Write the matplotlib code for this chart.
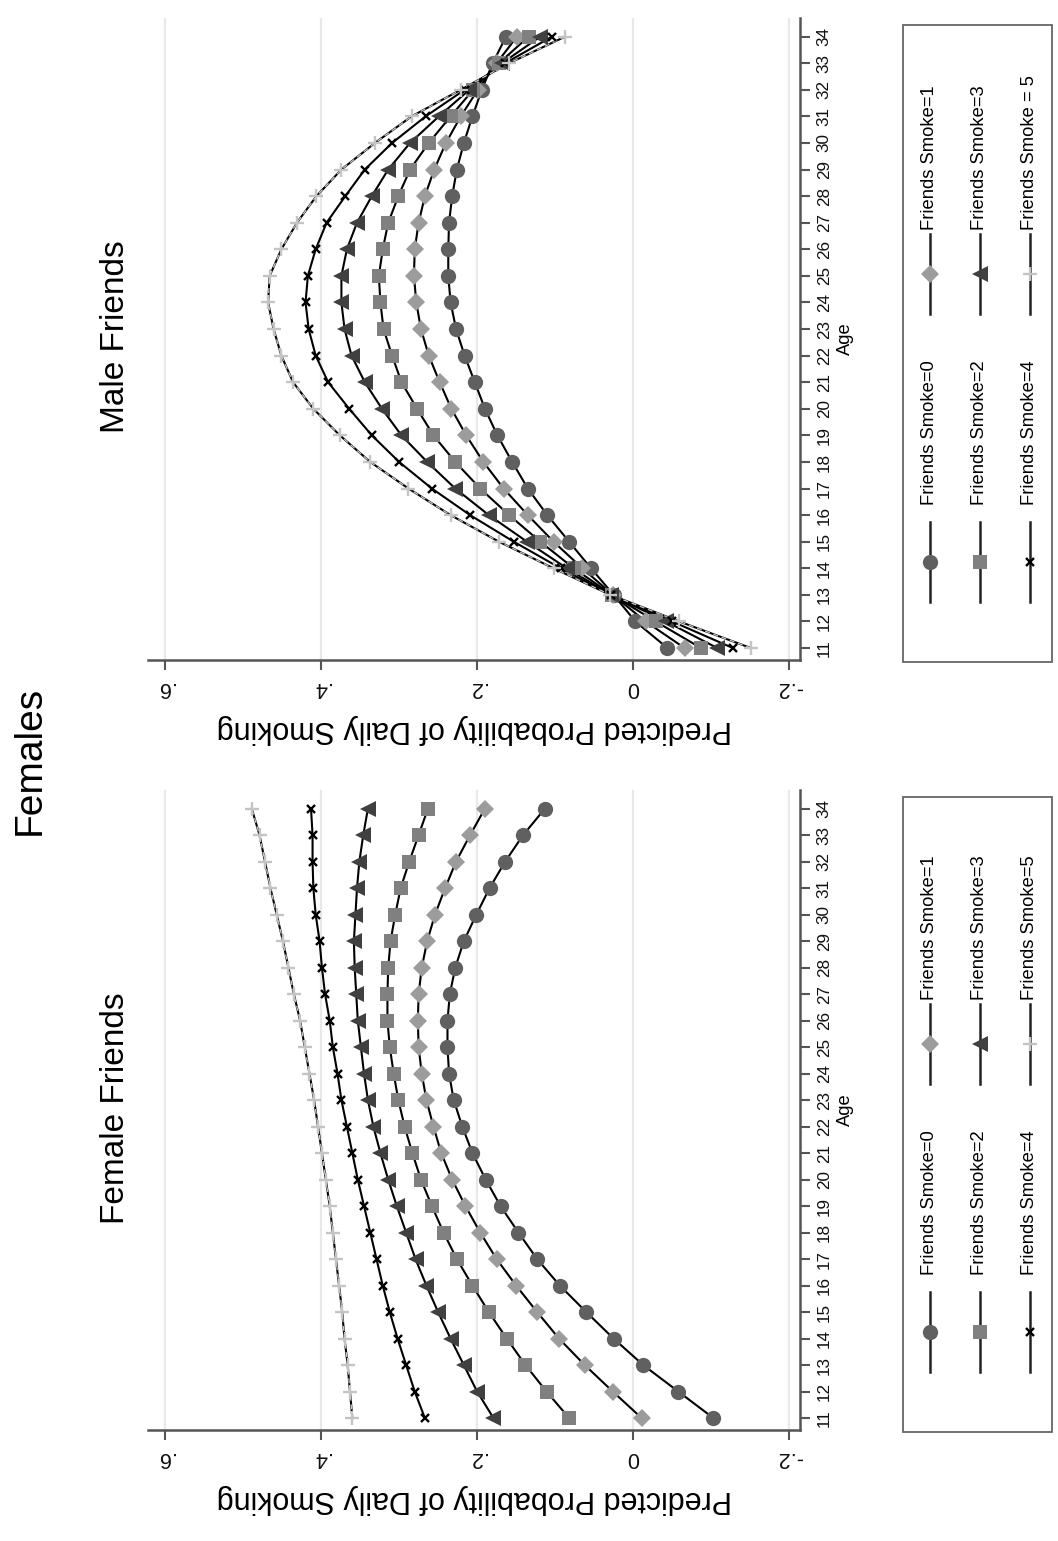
import matplotlib

matplotlib.use("Agg")
import matplotlib.pyplot as plt
from matplotlib import font_manager
from matplotlib.patches import Rectangle

W, H = 1058, 1541

AGES = list(range(11, 35))

# Female friends panel (predicted probability by age, one list per # of smoking friends)
FEM_0 = [-0.103, -0.058, -0.013, 0.025, 0.060, 0.094, 0.123, 0.147, 0.170, 0.189, 0.206, 0.219,
         0.230, 0.236, 0.238, 0.238, 0.235, 0.228, 0.217, 0.201, 0.184, 0.164, 0.141, 0.113]
FEM_1 = [-0.011, 0.026, 0.062, 0.095, 0.123, 0.150, 0.175, 0.196, 0.215, 0.232, 0.246, 0.256,
         0.265, 0.271, 0.275, 0.276, 0.275, 0.271, 0.264, 0.254, 0.241, 0.227, 0.209, 0.190]
FEM_2 = [0.082, 0.111, 0.138, 0.162, 0.185, 0.206, 0.226, 0.243, 0.258, 0.272, 0.283, 0.293,
         0.301, 0.307, 0.312, 0.315, 0.315, 0.314, 0.311, 0.305, 0.298, 0.287, 0.275, 0.263]
FEM_3 = [0.179, 0.200, 0.217, 0.234, 0.250, 0.265, 0.279, 0.291, 0.303, 0.314, 0.324, 0.333,
         0.340, 0.345, 0.349, 0.353, 0.355, 0.357, 0.358, 0.356, 0.354, 0.351, 0.346, 0.340]
FEM_4 = [0.267, 0.280, 0.291, 0.302, 0.312, 0.321, 0.329, 0.337, 0.345, 0.353, 0.360, 0.367,
         0.374, 0.379, 0.385, 0.389, 0.395, 0.399, 0.402, 0.407, 0.410, 0.411, 0.411, 0.413]
FEM_5 = [0.360, 0.363, 0.366, 0.370, 0.373, 0.377, 0.381, 0.385, 0.389, 0.394, 0.399, 0.404,
         0.409, 0.415, 0.421, 0.427, 0.435, 0.442, 0.449, 0.457, 0.465, 0.472, 0.479, 0.489]

# Male friends panel
MALE_0 = [-0.044, -0.003, 0.025, 0.054, 0.082, 0.110, 0.135, 0.155, 0.174, 0.190, 0.203, 0.216,
          0.227, 0.234, 0.237, 0.237, 0.236, 0.232, 0.226, 0.217, 0.206, 0.194, 0.180, 0.163]
MALE_1 = [-0.066, -0.016, 0.026, 0.065, 0.102, 0.135, 0.166, 0.192, 0.214, 0.233, 0.248, 0.262,
          0.272, 0.278, 0.281, 0.280, 0.275, 0.267, 0.255, 0.240, 0.221, 0.199, 0.175, 0.149]
MALE_2 = [-0.087, -0.029, 0.027, 0.076, 0.119, 0.159, 0.196, 0.228, 0.256, 0.277, 0.297, 0.309,
          0.320, 0.324, 0.326, 0.321, 0.314, 0.301, 0.286, 0.262, 0.234, 0.205, 0.172, 0.134]
MALE_3 = [-0.108, -0.042, 0.028, 0.085, 0.136, 0.185, 0.228, 0.264, 0.297, 0.322, 0.344, 0.361,
          0.370, 0.374, 0.374, 0.367, 0.354, 0.335, 0.314, 0.286, 0.249, 0.210, 0.168, 0.119]
MALE_4 = [-0.128, -0.050, 0.028, 0.093, 0.153, 0.209, 0.258, 0.300, 0.335, 0.364, 0.391, 0.407,
          0.416, 0.420, 0.417, 0.407, 0.393, 0.369, 0.344, 0.309, 0.266, 0.216, 0.164, 0.104]
MALE_5 = [-0.151, -0.059, 0.029, 0.102, 0.172, 0.234, 0.288, 0.337, 0.376, 0.410, 0.436, 0.451,
          0.461, 0.468, 0.466, 0.451, 0.431, 0.406, 0.374, 0.331, 0.284, 0.221, 0.159, 0.087]

PROB_TICKS = [-0.2, 0, 0.2, 0.4, 0.6]
PROB_LABELS = ["-.2", "0", ".2", ".4", ".6"]
FEM_LABELS = ["Friends Smoke=0", "Friends Smoke=1", "Friends Smoke=2",
              "Friends Smoke=3", "Friends Smoke=4", "Friends Smoke=5"]
MALE_LABELS = ["Friends Smoke=0", "Friends Smoke=1", "Friends Smoke=2",
               "Friends Smoke=3", "Friends Smoke=4", "Friends Smoke = 5"]

# marker, face colour, size (pt)
STYLES = [
    ("o", "#606060", 11),
    ("D", "#9c9c9c", 9),
    ("s", "#808080", 10.5),
    ("<", "#404040", 11),
    ("x", "#000000", 5.5),
    ("+", "#c4c4c4", 9.5),
]

names = {f.name for f in font_manager.fontManager.ttflist}
NARROW = "Liberation Sans Narrow" if "Liberation Sans Narrow" in names else "Liberation Sans"
SMALL_SCALE = 1.0 if NARROW == "Liberation Sans Narrow" else 0.88
plt.rcParams["font.family"] = "Liberation Sans"

fig = plt.figure(figsize=(W / 100, H / 100), dpi=100)
fig.patch.set_facecolor("white")

# full-figure overlay in pixel coordinates for titles and legends
ov = fig.add_axes([0, 0, 1, 1], zorder=5)
ov.set_xlim(0, W)
ov.set_ylim(H, 0)
ov.axis("off")
ov.patch.set_alpha(0)


def draw_series(ax, vals, style):
    marker, fc, ms = style
    lw_m = 1.7 if marker in ("x", "+") else 0
    ax.plot(vals, AGES, color="black", lw=1.5, zorder=3)
    if marker == "+":
        ax.plot(vals, AGES, color="#c8c8c8", lw=0.9, dashes=(4, 3), zorder=3)
    ax.plot(vals, AGES, ls="none", marker=marker, ms=ms, mfc=fc, mec=fc, mew=lw_m, zorder=4)


def panel(top, bottom, series, labels, title):
    l, r = 148, 800
    ax = fig.add_axes([l / W, 1 - bottom / H, (r - l) / W, (bottom - top) / H])
    for vals, st in zip(series, STYLES):
        draw_series(ax, vals, st)
    ax.set_xlim(0.622, -0.214)
    ax.set_ylim(10.55, 34.7)
    ax.set_xticks(PROB_TICKS)
    ax.set_xticklabels(PROB_LABELS, rotation=180, fontsize=15.5, color="#111")
    ax.grid(axis="x", color="#e8e8e8", lw=1.6, zorder=0)
    ax.set_axisbelow(True)
    ax.yaxis.tick_right()
    ax.yaxis.set_label_position("right")
    ax.set_yticks(AGES)
    ax.set_yticklabels([str(a) for a in AGES], rotation=90, fontsize=14 * SMALL_SCALE, family=NARROW,
                       va="center", color="#111")
    ax.set_ylabel("Age", rotation=90, fontsize=15 * SMALL_SCALE, family=NARROW, labelpad=4)
    ax.set_xlabel("Predicted Probability of Daily Smoking", rotation=180, fontsize=22, labelpad=12)
    for side in ("top", "left"):
        ax.spines[side].set_visible(False)
    for side in ("bottom", "right"):
        ax.spines[side].set_color("#555555")
        ax.spines[side].set_linewidth(1.8)
    ax.tick_params(axis="both", color="#555555", width=1.5, length=7, pad=5)

    # panel title
    ov.text(115, (top + bottom) / 2 - 2, title, rotation=90, ha="center", va="center", fontsize=24)

    # legend box
    bl, br, bt, bb = 903, 1052, top + 7, bottom + 2
    ov.add_patch(Rectangle((bl, bt), br - bl, bb - bt, fill=False, ec="#666666", lw=1.3))
    cols = [930, 980, 1030]
    rows = [(bb - 100, bb - 157), (bb - 388, bb - 432)]
    for i, (lab, st) in enumerate(zip(labels, STYLES)):
        cx = cols[i // 2]
        my, ty = rows[i % 2]
        marker, fc, ms = st
        ov.plot([cx, cx], [my - 40, my + 40], color="#222", lw=1.8)
        ov.plot([cx], [my], marker=marker, ms=ms, mfc=fc, mec=fc,
                mew=1.7 if marker in ("x", "+") else 0, ls="none")
        ov.text(cx, ty, lab, rotation=90, rotation_mode="anchor", ha="left", va="center",
                fontsize=15 * SMALL_SCALE, family=NARROW)
    return ax


panel(790, 1430, [FEM_0, FEM_1, FEM_2, FEM_3, FEM_4, FEM_5], FEM_LABELS, "Female Friends")
panel(18, 660, [MALE_0, MALE_1, MALE_2, MALE_3, MALE_4, MALE_5], MALE_LABELS, "Male Friends")

ov.text(30, 760, "Females", rotation=90, ha="center", va="center", fontsize=28)

fig.savefig("out.png", dpi=100, facecolor="white")
plt.close(fig)
